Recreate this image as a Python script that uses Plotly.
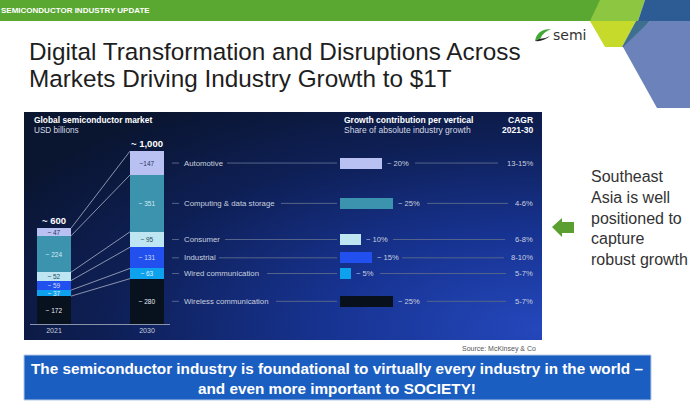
import base64
import plotly.graph_objects as go

W, H = 690, 402

# ---------------- data ----------------
years = ["2021", "2030"]
categories = ["Automotive", "Computing & data storage", "Consumer", "Industrial",
              "Wired communication", "Wireless communication"]
values_2021 = [47, 224, 52, 59, 37, 172]
values_2030 = [147, 351, 95, 131, 63, 280]
value_labels_2021 = ["~ 47", "~ 224", "~ 52", "~ 59", "~ 37", "~ 172"]
value_labels_2030 = ["~147", "~ 351", "~ 95", "~ 131", "~ 63", "~ 280"]
total_labels = ["~ 600", "~ 1,000"]
growth_share = [20, 25, 10, 15, 5, 25]
growth_labels = ["~ 20%", "~ 25%", "~ 10%", "~ 15%", "~ 5%", "~ 25%"]
cagr_labels = ["13-15%", "4-6%", "6-8%", "8-10%", "5-7%", "5-7%"]

# ---------------- styles ----------------
seg_colors = ["#b9c1f2", "#3b93ae", "#bde6f2", "#2150ee", "#0ea2ee", "#08111e"]
seg_text_colors = ["#2a3560", "#d5ecf2", "#2a4a60", "#d0dcff", "#e0f4ff", "#e8ecf4"]
growth_colors = ["#b9c1f2", "#3b93ae", "#bde6f2", "#2150ee", "#0ea2ee", "#07101b"]
FONT = "Liberation Sans, Arial, sans-serif"
LIGHT = "#c9d0de"


def px(x):
    return x / W


def py(y):
    return 1 - y / H


def path(points, close=True):
    s = "M " + " L ".join(f"{px(x):.5f},{py(y):.5f}" for x, y in points)
    return s + (" Z" if close else "")


# pixel geometry of the panel / axes
PANEL = (24, 112, 542, 340)
BASE_Y = 324          # baseline of the stacked bars
TOP_Y = 112
PX_PER_BN = 0.162
X0_PX, X1_PX = 30, 170      # x axis domain of the stacked bars
C0, C1 = 54, 147            # bar centres in px
UNIT = C1 - C0
BAR_W = 34 / UNIT
GX0, GX1 = 340, 542         # growth bar axis domain
PX_PER_PCT = 2.12

fig = go.Figure()

# stacked bars: bottom (wireless) first
n = len(categories)
for i in reversed(range(n)):
    fig.add_trace(go.Bar(
        x=[0, 1], y=[values_2021[i], values_2030[i]],
        width=BAR_W, marker=dict(color=seg_colors[i], line=dict(width=0)),
        text=[value_labels_2021[i], value_labels_2030[i]],
        textposition="inside", insidetextanchor="middle", constraintext="none",
        textfont=dict(size=6.5, color=seg_text_colors[i], family=FONT),
        name=categories[i], showlegend=False, hoverinfo="skip",
        xaxis="x", yaxis="y"))


def tops(vals):
    out = []
    run = sum(vals)
    for v in vals:
        out.append(run)
        run -= v
    return out


tops21 = tops(values_2021)
tops30 = tops(values_2030)
mids30 = [t - v / 2 for t, v in zip(tops30, values_2030)]

# growth contribution bars
fig.add_trace(go.Bar(
    x=growth_share, y=mids30, orientation="h", width=11 / PX_PER_BN,
    marker=dict(color=growth_colors, line=dict(width=0)),
    showlegend=False, hoverinfo="skip", xaxis="x2", yaxis="y"))

shapes = []
ann = []

# ---------- slide decorations ----------
shapes.append(dict(type="rect", xref="paper", yref="paper", x0=0, x1=px(600), y0=py(21), y1=1,
                   fillcolor="#5aa832", line=dict(width=0), layer="below"))
shapes.append(dict(type="path", xref="paper", yref="paper",
                   path=path([(600, 0), (645, 0), (638, 21), (590, 21)]),
                   fillcolor="#8dc641", line=dict(width=0)))
shapes.append(dict(type="path", xref="paper", yref="paper",
                   path=path([(590, 21), (636, 21), (622, 47), (605, 47)]),
                   fillcolor="#c6da2c", line=dict(width=0)))
shapes.append(dict(type="path", xref="paper", yref="paper",
                   path=path([(645, 0), (690, 0), (690, 21), (638, 21)]),
                   fillcolor="#2d5b93", line=dict(width=0)))
shapes.append(dict(type="path", xref="paper", yref="paper",
                   path=path([(636, 21), (650, 21), (627, 47), (622, 47)]),
                   fillcolor="#3e6f8e", line=dict(width=0)))
shapes.append(dict(type="path", xref="paper", yref="paper",
                   path=path([(650, 21), (690, 21), (690, 108), (657, 108), (623, 47)]),
                   fillcolor="#6b82ba", line=dict(width=0)))
# semi logo swoosh
shapes.append(dict(type="path", xref="paper", yref="paper",
                   path=(f"M {px(535)},{py(41)} Q {px(537)},{py(29)} {px(551)},{py(29)} "
                         f"Q {px(542)},{py(33)} {px(541)},{py(38)} Z"),
                   fillcolor="#43a836", line=dict(width=0)))
shapes.append(dict(type="path", xref="paper", yref="paper",
                   path=(f"M {px(535)},{py(41)} Q {px(543)},{py(42)} {px(550)},{py(36)} "
                         f"Q {px(545)},{py(39)} {px(539)},{py(39)} Z"),
                   fillcolor="#222222", line=dict(width=0)))

# ---------- chart lines ----------
LINE_C = "#55658a"
for t21, t30 in zip(tops21, tops30):
    shapes.append(dict(type="line", xref="x", yref="y", x0=BAR_W / 2, x1=1 - BAR_W / 2,
                       y0=t21, y1=t30, line=dict(color="#aab3c6", width=0.8)))

label_end = [227, 281, 225, 219, 267, 276]
growth_end = [415, 427, 393, 402, 380, 427]
cagr_start = [498, 508, 505, 504, 506, 506]
for i in range(n):
    m = mids30[i]
    shapes.append(dict(type="line", xref="paper", yref="y", x0=px(172), x1=px(179), y0=m, y1=m,
                       line=dict(color=LINE_C, width=1)))
    shapes.append(dict(type="line", xref="paper", yref="y", x0=px(label_end[i]), x1=px(337), y0=m, y1=m,
                       line=dict(color=LINE_C, width=1)))
    shapes.append(dict(type="line", xref="paper", yref="y", x0=px(growth_end[i]), x1=px(cagr_start[i]),
                       y0=m, y1=m, line=dict(color=LINE_C, width=1)))
    ann.append(dict(xref="paper", yref="y", x=px(182), y=m, text=categories[i], showarrow=False,
                    xanchor="left", yanchor="middle", font=dict(size=7.8, color=LIGHT, family=FONT)))
    ann.append(dict(xref="x2", yref="y", x=growth_share[i], y=m, text=growth_labels[i], showarrow=False,
                    xanchor="left", yanchor="middle", xshift=3,
                    font=dict(size=7.6, color=LIGHT, family=FONT)))
    ann.append(dict(xref="paper", yref="y", x=px(535), y=m, text=cagr_labels[i], showarrow=False,
                    xanchor="right", yanchor="middle", font=dict(size=7.6, color=LIGHT, family=FONT)))

# totals
for j, tot in enumerate([sum(values_2021), sum(values_2030)]):
    ann.append(dict(xref="x", yref="y", x=j, y=tot, text=f"<b>{total_labels[j]}</b>", showarrow=False,
                    xanchor="center", yanchor="bottom", yshift=0,
                    font=dict(size=9.5, color="#ffffff", family=FONT)))


def txt(x, y, s, size, color, anchor="left", family=FONT, yanchor="middle", align="left"):
    ann.append(dict(xref="paper", yref="paper", x=px(x), y=py(y), text=s, showarrow=False,
                    xanchor=anchor, yanchor=yanchor, align=align,
                    font=dict(size=size, color=color, family=family)))


txt(32, 120, "<b>Global semiconductor market</b>", 8.4, "#ffffff")
txt(32, 130, "USD billions", 8.2, "#d3d9e4")
txt(342, 120, "<b>Growth contribution per vertical</b>", 8.5, "#ffffff")
txt(342, 130, "Share of absolute industry growth", 8.5, "#d3d9e4")
txt(535, 120, "<b>CAGR</b>", 8.5, "#ffffff", anchor="right")
txt(535, 130, "<b>2021-30</b>", 8.5, "#ffffff", anchor="right")

# slide texts
txt(-1, 10, "<b>SEMICONDUCTOR INDUSTRY UPDATE</b>", 8, "#ffffff")
txt(27, 52, "Digital Transformation and Disruptions Across", 24.3, "#1e1e1e")
txt(27, 78, "Markets Driving Industry Growth to $1T", 24.3, "#1e1e1e")
txt(551, 35, "semi", 14, "#333333", family="DejaVu Sans, sans-serif")
txt(538, 349, "Source: McKinsey &amp; Co", 7, "#555555", anchor="right")
txt(589, 218, "Southeast<br>Asia is well<br>positioned to<br>capture<br>robust growth", 16, "#333333")

# arrow
shapes.append(dict(type="path", xref="paper", yref="paper",
                   path=path([(552, 227), (562, 218), (562, 222), (574, 222), (574, 233), (562, 233), (562, 237)]),
                   fillcolor="#5a9f30", line=dict(width=0)))

# banner
shapes.append(dict(type="rect", xref="paper", yref="paper", x0=px(24), x1=px(651), y0=py(400), y1=py(355),
                   fillcolor="#1b5ec1", line=dict(color="#b6c9e6", width=1)))
ann.append(dict(xref="paper", yref="paper", x=px(337), y=py(378),
                text="<b>The semiconductor industry is foundational to virtually every industry in the world –<br>"
                     "and even more important to SOCIETY!</b>",
                showarrow=False, xanchor="center", yanchor="middle",
                font=dict(size=15.3, color="#ffffff", family=FONT)))

# gradient panel background
svg = ("<svg xmlns='http://www.w3.org/2000/svg' width='518' height='228' viewBox='0 0 518 228' "
       "preserveAspectRatio='none'><defs>"
       "<radialGradient id='g' cx='1' cy='0.95' r='1.2' gradientUnits='objectBoundingBox'>"
       "<stop offset='0' stop-color='#2447bc'/><stop offset='0.35' stop-color='#173391'/>"
       "<stop offset='0.7' stop-color='#0e1f55'/><stop offset='1' stop-color='#0a1530'/>"
       "</radialGradient></defs><rect width='518' height='228' fill='url(#g)'/></svg>")
src = "data:image/svg+xml;base64," + base64.b64encode(svg.encode()).decode()

x0p, y0p, x1p, y1p = PANEL
fig.update_layout(
    width=W, height=H, margin=dict(l=0, r=0, t=0, b=0),
    paper_bgcolor="#ffffff", plot_bgcolor="rgba(0,0,0,0)",
    barmode="stack", bargap=0, showlegend=False,
    font=dict(family=FONT),
    images=[dict(source=src, xref="paper", yref="paper", x=px(x0p), y=py(y0p),
                 sizex=px(x1p) - px(x0p), sizey=py(y0p) - py(y1p), sizing="stretch",
                 xanchor="left", yanchor="top", layer="below")],
    xaxis=dict(domain=[px(X0_PX), px(X1_PX)],
               range=[-(C0 - X0_PX) / UNIT, (X1_PX - C0) / UNIT],
               tickvals=[0, 1], ticktext=years, ticks="", showgrid=False, zeroline=False,
               showline=True, linecolor="#8a94aa", linewidth=1,
               tickfont=dict(size=7, color="#c9d0de", family=FONT), fixedrange=True),
    yaxis=dict(domain=[py(BASE_Y), py(TOP_Y)], range=[0, (BASE_Y - TOP_Y) / PX_PER_BN],
               visible=False, fixedrange=True),
    xaxis2=dict(domain=[px(GX0), px(GX1)], range=[0, (GX1 - GX0) / PX_PER_PCT],
                anchor="y", visible=False, fixedrange=True),
    shapes=shapes, annotations=ann,
)

fig.write_html("out.html")
